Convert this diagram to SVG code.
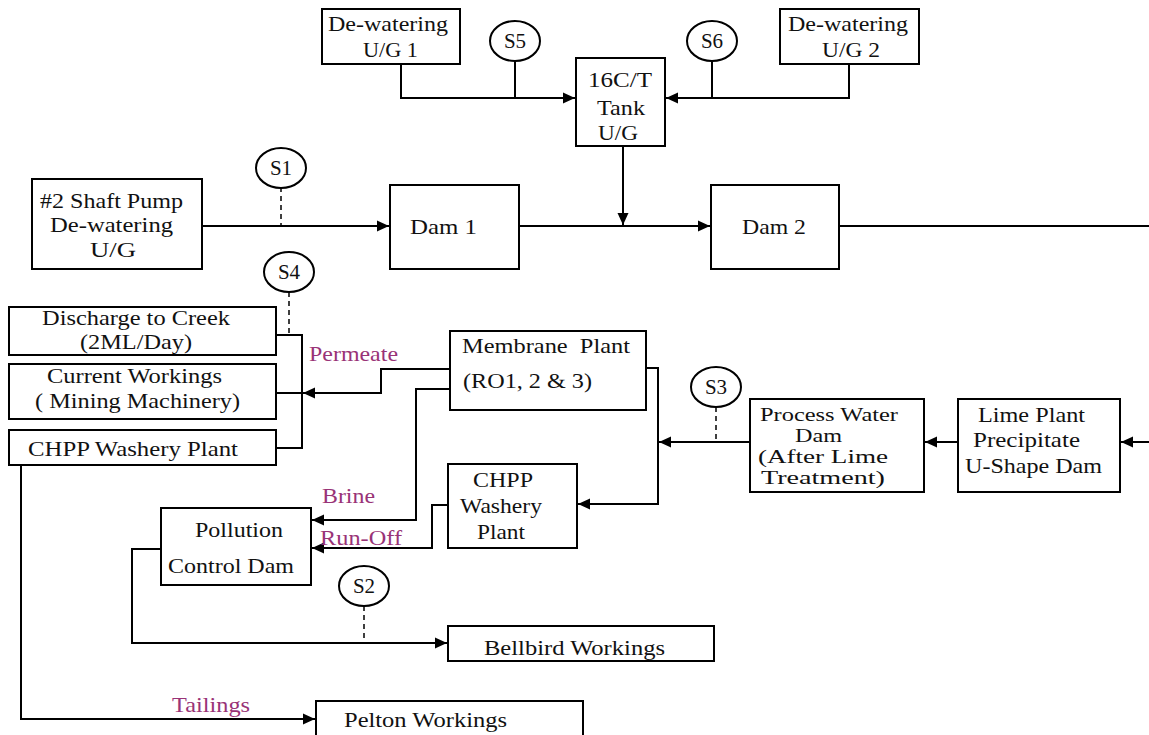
<svg xmlns="http://www.w3.org/2000/svg" width="1149" height="735" viewBox="0 0 1149 735">
<style>
.box{fill:#fff;stroke:#000;stroke-width:2}
.sp{fill:#fff;stroke:#000;stroke-width:2}
.ln{fill:none;stroke:#000;stroke-width:2}
.dl{fill:none;stroke:#000;stroke-width:1.5;stroke-dasharray:5 4}
.ar{fill:none;stroke:#000;stroke-width:2;marker-end:url(#ah)}
text{font-family:"Liberation Serif","Times New Roman",serif;font-size:21px;fill:#111}
.sm{font-size:18px}
.lb{fill:#993377}
.c{text-anchor:middle}
</style>
<defs>
<marker id="ah" markerUnits="userSpaceOnUse" markerWidth="14" markerHeight="12" refX="12" refY="6" orient="auto">
<path d="M0,0.5 L12,6 L0,11.5 Z" fill="#000"/>
</marker>
</defs>
<rect width="1149" height="735" fill="#fff"/>
<g id="connectors">
<polyline class="ar" points="401,64 401,98 575,98"/>
<line class="ln" x1="515" y1="60" x2="515" y2="98"/>
<polyline class="ar" points="849,64 849,98 666,98"/>
<line class="ln" x1="712" y1="60" x2="712" y2="98"/>
<line class="ar" x1="623" y1="146" x2="623" y2="225"/>
<line class="ar" x1="202" y1="226" x2="389" y2="226"/>
<line class="dl" x1="281" y1="187" x2="281" y2="226"/>
<line class="ar" x1="519" y1="226" x2="710" y2="226"/>
<line class="ln" x1="839" y1="226" x2="1149" y2="226"/>
<polyline class="ln" points="276,335 302,335 302,448 276,448"/>
<line class="ln" x1="276" y1="393" x2="302" y2="393"/>
<line class="dl" x1="289" y1="292" x2="289" y2="335"/>
<polyline class="ar" points="450,369 381,369 381,393 303,393"/>
<polyline class="ar" points="450,389 416,389 416,520 312,520"/>
<polyline class="ar" points="646,368 658,368 658,504 578,504"/>
<line class="ar" x1="750" y1="442" x2="659" y2="442"/>
<line class="dl" x1="716" y1="407" x2="716" y2="442"/>
<line class="ar" x1="958" y1="442" x2="925" y2="442"/>
<line class="ar" x1="1149" y1="442" x2="1121" y2="442"/>
<polyline class="ar" points="448,505 432,505 432,548 312,548"/>
<polyline class="ar" points="161,549 132,549 132,643 447,643"/>
<line class="dl" x1="364" y1="606" x2="364" y2="643"/>
<polyline class="ar" points="21,465 21,719 315,719"/>
<text class="lb" x="309" y="361" textLength="89" lengthAdjust="spacingAndGlyphs">Permeate</text>
<text class="lb" x="322" y="503" textLength="53" lengthAdjust="spacingAndGlyphs">Brine</text>
<text class="lb" x="320" y="545" textLength="82" lengthAdjust="spacingAndGlyphs">Run-Off</text>
<text class="lb" x="172" y="712" textLength="78" lengthAdjust="spacingAndGlyphs">Tailings</text>
</g>
<g id="dewatering-ug1">
<rect class="box" x="322" y="9" width="138" height="55"/>
<text x="328" y="31" textLength="120" lengthAdjust="spacingAndGlyphs">De-watering</text>
<text x="363" y="57" textLength="55" lengthAdjust="spacingAndGlyphs">U/G 1</text>
</g>
<g id="s5">
<ellipse class="sp" cx="515" cy="41" rx="25" ry="20"/>
<text class="c" x="515" y="48">S5</text>
</g>
<g id="tank">
<rect class="box" x="576" y="58" width="89" height="88"/>
<text x="588" y="87" textLength="64" lengthAdjust="spacingAndGlyphs">16C/T</text>
<text x="597" y="115" textLength="48" lengthAdjust="spacingAndGlyphs">Tank</text>
<text x="598" y="140" textLength="40" lengthAdjust="spacingAndGlyphs">U/G</text>
</g>
<g id="s6">
<ellipse class="sp" cx="712" cy="41" rx="25" ry="20"/>
<text class="c" x="712" y="48">S6</text>
</g>
<g id="dewatering-ug2">
<rect class="box" x="780" y="9" width="139" height="55"/>
<text x="788" y="31" textLength="120" lengthAdjust="spacingAndGlyphs">De-watering</text>
<text x="822" y="57" textLength="58" lengthAdjust="spacingAndGlyphs">U/G 2</text>
</g>
<g id="shaft-pump">
<rect class="box" x="32" y="179" width="170" height="90"/>
<text x="40" y="208" textLength="143" lengthAdjust="spacingAndGlyphs">#2 Shaft Pump</text>
<text x="50" y="232" textLength="123" lengthAdjust="spacingAndGlyphs">De-watering</text>
<text x="90" y="257" textLength="46" lengthAdjust="spacingAndGlyphs">U/G</text>
</g>
<g id="s1">
<ellipse class="sp" cx="281" cy="168" rx="25" ry="20"/>
<text class="c" x="281" y="175">S1</text>
</g>
<g id="dam1">
<rect class="box" x="390" y="185" width="129" height="84"/>
<text x="410" y="234" textLength="67" lengthAdjust="spacingAndGlyphs">Dam 1</text>
</g>
<g id="dam2">
<rect class="box" x="711" y="185" width="128" height="84"/>
<text x="742" y="234" textLength="64" lengthAdjust="spacingAndGlyphs">Dam 2</text>
</g>
<g id="s4">
<ellipse class="sp" cx="289" cy="272" rx="25" ry="20"/>
<text class="c" x="289" y="279">S4</text>
</g>
<g id="discharge">
<rect class="box" x="9" y="307" width="267" height="48"/>
<text x="42" y="325" textLength="188" lengthAdjust="spacingAndGlyphs">Discharge to Creek</text>
<text x="80" y="349" textLength="112" lengthAdjust="spacingAndGlyphs">(2ML/Day)</text>
</g>
<g id="current-workings">
<rect class="box" x="9" y="364" width="267" height="55"/>
<text x="47" y="383" textLength="175" lengthAdjust="spacingAndGlyphs">Current Workings</text>
<text x="35" y="408" textLength="205" lengthAdjust="spacingAndGlyphs">( Mining Machinery)</text>
</g>
<g id="chpp-left">
<rect class="box" x="9" y="430" width="267" height="35"/>
<text x="28" y="456" textLength="210" lengthAdjust="spacingAndGlyphs">CHPP Washery Plant</text>
</g>
<g id="membrane">
<rect class="box" x="450" y="331" width="196" height="79"/>
<text x="462" y="353" textLength="168" lengthAdjust="spacingAndGlyphs" xml:space="preserve">Membrane  Plant</text>
<text x="463" y="388" textLength="129" lengthAdjust="spacingAndGlyphs">(RO1, 2 &amp; 3)</text>
</g>
<g id="s3">
<ellipse class="sp" cx="716" cy="387" rx="25" ry="20"/>
<text class="c" x="716" y="394">S3</text>
</g>
<g id="process-water">
<rect class="box" x="750" y="399" width="174" height="93"/>
<text class="sm" x="760" y="421" textLength="138" lengthAdjust="spacingAndGlyphs">Process Water</text>
<text class="sm" x="795" y="442" textLength="47" lengthAdjust="spacingAndGlyphs">Dam</text>
<text class="sm" x="758" y="463" textLength="130" lengthAdjust="spacingAndGlyphs">(After Lime</text>
<text class="sm" x="761" y="484" textLength="124" lengthAdjust="spacingAndGlyphs">Treatment)</text>
</g>
<g id="lime-plant">
<rect class="box" x="958" y="399" width="162" height="93"/>
<text x="978" y="422" textLength="107" lengthAdjust="spacingAndGlyphs">Lime Plant</text>
<text x="973" y="447" textLength="107" lengthAdjust="spacingAndGlyphs">Precipitate</text>
<text x="965" y="473" textLength="137" lengthAdjust="spacingAndGlyphs">U-Shape Dam</text>
</g>
<g id="chpp-center">
<rect class="box" x="448" y="464" width="129" height="84"/>
<text x="473" y="487" textLength="60" lengthAdjust="spacingAndGlyphs">CHPP</text>
<text x="460" y="513" textLength="82" lengthAdjust="spacingAndGlyphs">Washery</text>
<text x="477" y="539" textLength="48" lengthAdjust="spacingAndGlyphs">Plant</text>
</g>
<g id="pollution">
<rect class="box" x="161" y="508" width="150" height="77"/>
<text x="195" y="537" textLength="88" lengthAdjust="spacingAndGlyphs">Pollution</text>
<text x="168" y="573" textLength="126" lengthAdjust="spacingAndGlyphs">Control Dam</text>
</g>
<g id="s2">
<ellipse class="sp" cx="364" cy="586" rx="25" ry="20"/>
<text class="c" x="364" y="593">S2</text>
</g>
<g id="bellbird">
<rect class="box" x="448" y="626" width="266" height="35"/>
<text x="484" y="655" textLength="181" lengthAdjust="spacingAndGlyphs">Bellbird Workings</text>
</g>
<g id="pelton">
<rect class="box" x="316" y="701" width="267" height="45"/>
<text x="344" y="727" textLength="163" lengthAdjust="spacingAndGlyphs">Pelton Workings</text>
</g>
</svg>
